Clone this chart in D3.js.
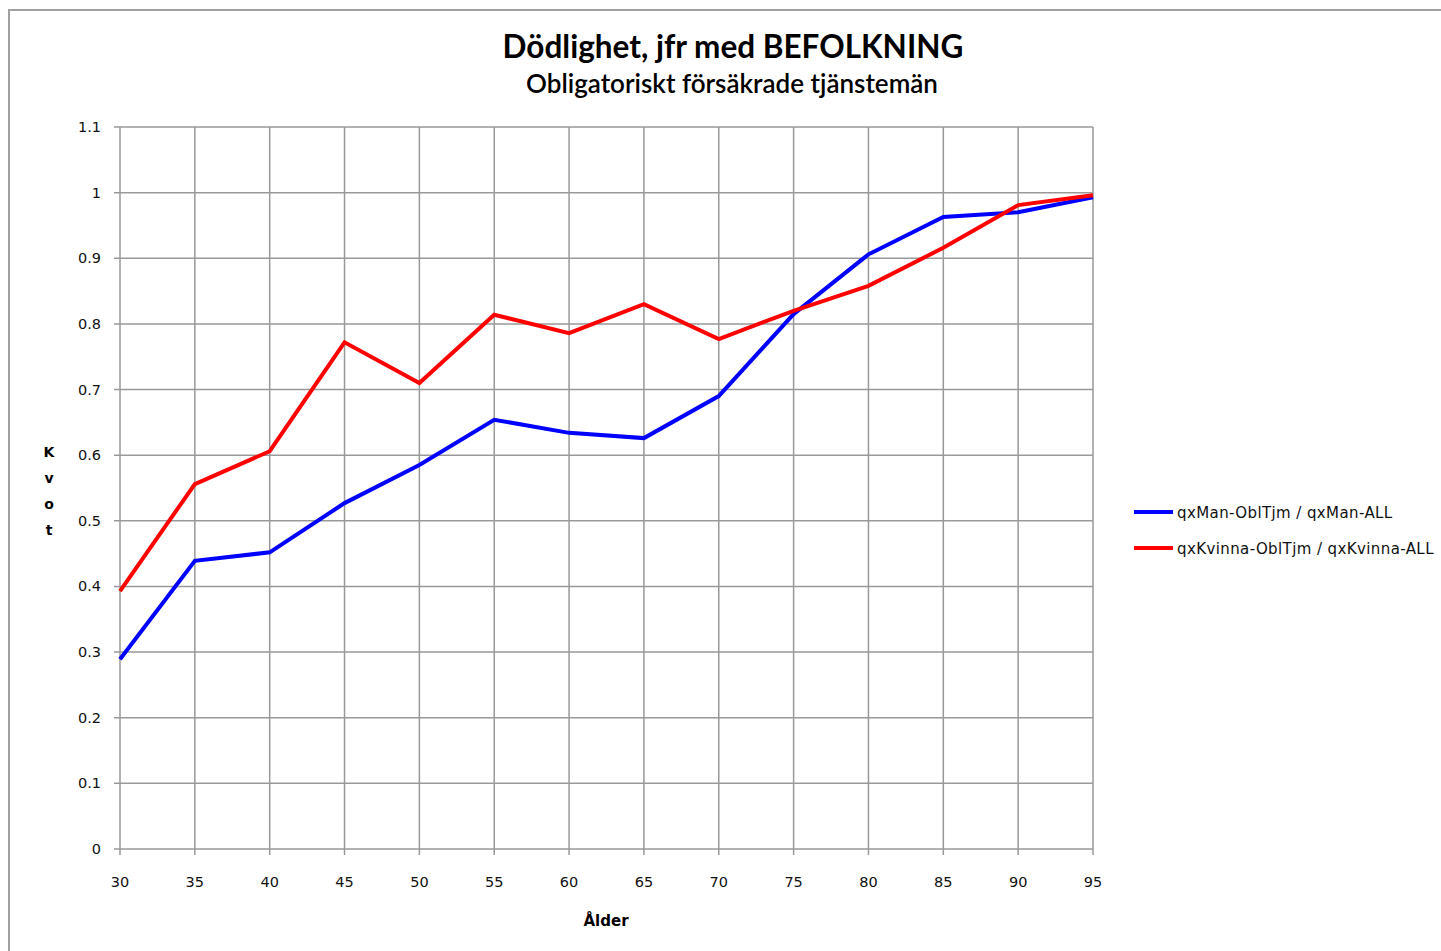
<!DOCTYPE html>
<html><head><meta charset="utf-8">
<script src="https://cdn.jsdelivr.net/npm/d3@7"></script>
<style>body{margin:0;background:#fff}svg{display:block}</style>
</head><body>
<svg id="c" width="1441" height="951"></svg>
<script>
const ages = [30,35,40,45,50,55,60,65,70,75,80,85,90,95];
const manValues = [0.289,0.439,0.452,0.527,0.585,0.654,0.634,0.626,0.690,0.815,0.906,0.963,0.970,0.993];
const kvinnaValues = [0.393,0.556,0.606,0.772,0.710,0.814,0.786,0.830,0.777,0.820,0.858,0.916,0.981,0.996];
const yTicks = [0,0.1,0.2,0.3,0.4,0.5,0.6,0.7,0.8,0.9,1,1.1];
const seriesNames = ["qxMan-OblTjm / qxMan-ALL","qxKvinna-OblTjm / qxKvinna-ALL"];
const seriesColors = ["#0000ff","#ff0000"];
const title = "Dödlighet, jfr med BEFOLKNING";
const subtitle = "Obligatoriskt försäkrade tjänstemän";

const svg = d3.select("#c");
svg.append("rect").attr("x",9).attr("y",10).attr("width",1500).attr("height",1000)
  .attr("fill","none").attr("stroke","#a0a0a0").attr("stroke-width",2);

const L=120,R=1093,T=127,B=849;
const x = d3.scaleLinear().domain([30,95]).range([L,R]);
const y = d3.scaleLinear().domain([0,1.1]).range([B,T]);
const grid="#999";
const g = svg.append("g");
g.selectAll(".hg").data(yTicks).join("line")
  .attr("x1",L-6).attr("x2",R).attr("y1",d=>y(d)).attr("y2",d=>y(d))
  .attr("stroke",grid).attr("stroke-width",1.5);
g.selectAll(".vg").data(ages).join("line")
  .attr("x1",d=>x(d)).attr("x2",d=>x(d)).attr("y1",T).attr("y2",B+6)
  .attr("stroke",grid).attr("stroke-width",1.5);

const tickFont = "DejaVu Sans, Verdana, sans-serif";
g.selectAll(".yl").data(yTicks).join("text")
  .attr("x",L-19).attr("y",d=>y(d)+5).attr("text-anchor","end")
  .attr("font-family",tickFont).attr("font-size",14.5).attr("fill","#111")
  .text(d=>d3.format("~g")(d));
g.selectAll(".xl").data(ages).join("text")
  .attr("x",d=>x(d)).attr("y",B+38).attr("text-anchor","middle")
  .attr("font-family",tickFont).attr("font-size",14.5).attr("fill","#111")
  .text(d=>d);

const line = d3.line().x((d,i)=>x(ages[i])).y(d=>y(d));
[manValues,kvinnaValues].forEach((vals,i)=>{
  svg.append("path").datum(vals).attr("d",line).attr("fill","none")
    .attr("stroke",seriesColors[i]).attr("stroke-width",4).attr("stroke-linejoin","miter");
});

svg.append("text").attr("x",733).attr("y",58).attr("text-anchor","middle")
  .attr("font-family","Lato, 'Open Sans', sans-serif").attr("font-weight","bold").attr("font-size",31.5)
  .attr("fill","#000").text(title);
svg.append("text").attr("x",732).attr("y",93).attr("text-anchor","middle")
  .attr("font-family","Lato, 'Open Sans', sans-serif").attr("font-weight","600").attr("font-size",26)
  .attr("fill","#000").text(subtitle);

svg.append("text").attr("x",606).attr("y",926).attr("text-anchor","middle")
  .attr("font-family",tickFont).attr("font-weight","bold").attr("font-size",15).text("Ålder");
["K","v","o","t"].forEach((ch,i)=>{
  svg.append("text").attr("x",49).attr("y",457+i*26).attr("text-anchor","middle")
    .attr("font-family",tickFont).attr("font-weight","bold").attr("font-size",14).text(ch);
});

seriesNames.forEach((n,i)=>{
  const ly = 512 + i*36;
  svg.append("line").attr("x1",1134).attr("x2",1173).attr("y1",ly).attr("y2",ly)
    .attr("stroke",seriesColors[i]).attr("stroke-width",4);
  svg.append("text").attr("x",1177).attr("y",ly+6).attr("font-family",tickFont)
    .attr("font-size",15).attr("letter-spacing",0.4).attr("fill","#111").text(n);
});
</script>
</body></html>
